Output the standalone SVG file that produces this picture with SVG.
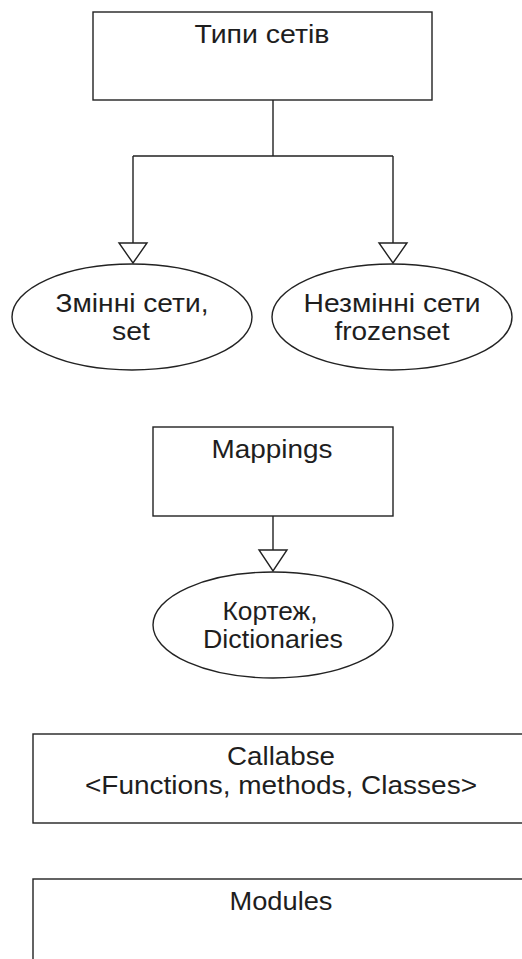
<svg xmlns="http://www.w3.org/2000/svg" width="522" height="959" viewBox="0 0 522 959">
  <style>
    .box { fill: #ffffff; stroke: #222222; stroke-width: 1.4; }
    .ell { fill: #ffffff; stroke: #222222; stroke-width: 1.4; }
    .wire { fill: none; stroke: #222222; stroke-width: 1.4; }
    .head { fill: #ffffff; stroke: #222222; stroke-width: 1.4; stroke-linejoin: miter; }
    text { font-family: "Liberation Sans", Arial, sans-serif; font-size: 26px; fill: #1e1e1e; text-anchor: middle; }
  </style>
  <rect width="522" height="959" fill="#ffffff"/>

  <!-- connectors: hollow triangle heads -->
  <g id="connectors">
    <path class="wire" d="M273 100 V156 M133 156 H393 M133 156 V243 M393 156 V243"/>
    <polygon class="head" points="119,243 147,243 133,263"/>
    <polygon class="head" points="379,243 407,243 393,263"/>
    <path class="wire" d="M273 516 V550"/>
    <polygon class="head" points="259,550 287,550 273,571"/>
  </g>

  <g id="set-types">
    <rect class="box" x="93" y="12" width="339" height="88"/>
    <text x="262" y="43" textLength="135" lengthAdjust="spacingAndGlyphs">Типи сетів</text>
  </g>

  <g id="mutable-sets">
    <ellipse class="ell" cx="132" cy="317" rx="120" ry="53"/>
    <text x="132" y="312" textLength="153" lengthAdjust="spacingAndGlyphs">Змінні сети,</text>
    <text x="131" y="340" textLength="38" lengthAdjust="spacingAndGlyphs">set</text>
  </g>

  <g id="frozen-sets">
    <ellipse class="ell" cx="392" cy="317" rx="120" ry="53"/>
    <text x="392" y="312" textLength="177" lengthAdjust="spacingAndGlyphs">Незмінні сети</text>
    <text x="392" y="340" textLength="115" lengthAdjust="spacingAndGlyphs">frozenset</text>
  </g>

  <g id="mappings">
    <rect class="box" x="153" y="427" width="240" height="89"/>
    <text x="272" y="458" textLength="121" lengthAdjust="spacingAndGlyphs">Mappings</text>
  </g>

  <g id="dictionaries">
    <ellipse class="ell" cx="273" cy="625" rx="120" ry="53"/>
    <text x="270" y="620" textLength="95" lengthAdjust="spacingAndGlyphs">Кортеж,</text>
    <text x="273" y="648" textLength="140" lengthAdjust="spacingAndGlyphs">Dictionaries</text>
  </g>

  <g id="callables">
    <rect class="box" x="33" y="734" width="496" height="89"/>
    <text x="281" y="765" textLength="108" lengthAdjust="spacingAndGlyphs">Callabse</text>
    <text x="281" y="794" textLength="392" lengthAdjust="spacingAndGlyphs">&lt;Functions, methods, Classes&gt;</text>
  </g>

  <g id="modules">
    <rect class="box" x="33" y="879" width="496" height="100"/>
    <text x="281" y="910" textLength="103" lengthAdjust="spacingAndGlyphs">Modules</text>
  </g>
</svg>
